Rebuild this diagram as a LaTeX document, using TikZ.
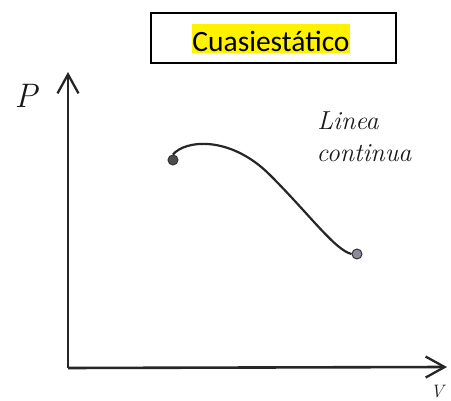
\documentclass[tikz,border=0pt]{standalone}
\usepackage{fontspec}
\newfontfamily\titlefont{Carlito}
\usetikzlibrary{arrows.meta}
\tikzset{
  axis/.style={line width=2.6pt, draw=black!85, -{Straight Barb[length=19pt,width=21pt,line width=2.3pt]}},
  curveline/.style={line width=2.2pt, draw=black!85},
  enddot/.style={circle, inner sep=0pt, minimum size=10pt, draw=black!80, line width=1pt},
  hand/.style={font=\fontsize{26}{28}\selectfont\itshape, text=black!90, inner sep=0pt},
}
\begin{document}
\begin{tikzpicture}[x=1pt,y=-1pt]
\useasboundingbox (0,0) rectangle (451,401);
% title box
\draw[line width=1.8pt] (151,13) rectangle (396,63);
\node[fill=yellow, inner sep=0pt, text height=27.7pt, text depth=1.3pt, anchor=base,
      font=\titlefont\fontsize{29.5}{30}\selectfont] (title) at (271,51.7) {Cuasiestático};
% axes
\coordinate (O) at (68,368);
\coordinate (ytop) at (68,72);
\coordinate (xend) at (447,367);
\draw[axis] (O) -- (ytop);
\draw[axis] (O) -- (xend);
\node[font=\fontsize{34}{36}\selectfont\itshape, text=black!90, inner sep=0pt] (P) at (26,96) {P};
\node[font=\fontsize{18}{20}\selectfont\itshape, text=black!90, inner sep=0pt, anchor=south east] (V) at (444,398) {V};
% curve
\node[enddot, fill=black!70] (A) at (173,160) {};
\node[enddot, fill=blue!15!black!45] (B) at (357,254) {};
\draw[curveline] (A.north) .. controls (185,140) and (230,135) .. (270,175)
   .. controls (310,215) and (335,250) .. (B.west);
% label
\node[hand] (linea) at (348,121) {Linea};
\node[hand] (continua) at (364,153) {continua};
\end{tikzpicture}
\end{document}
